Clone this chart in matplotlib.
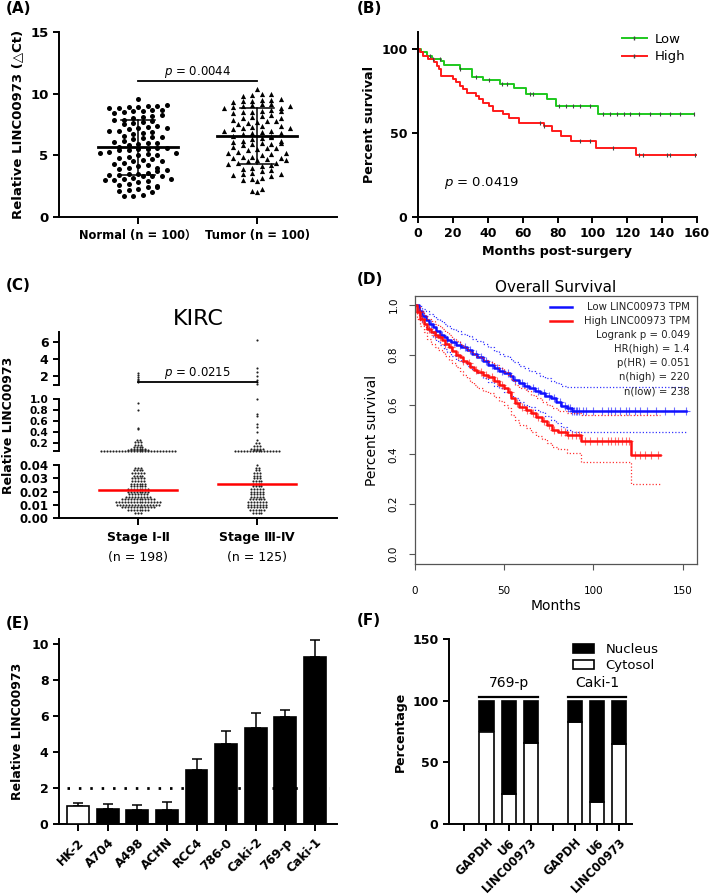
import numpy as np
import matplotlib
matplotlib.use("Agg")
import matplotlib.pyplot as plt
from matplotlib.patches import Patch
from matplotlib.lines import Line2D

plt.rcParams['font.family'] = ['DejaVu Sans', 'Noto Sans CJK SC']
plt.rcParams['mathtext.fontset'] = 'dejavusans'

# ---------------- data ----------------
# (A) delta Ct scatter
normal_vals = [1.7, 1.7, 1.8, 2.0, 2.1, 2.2, 2.3, 2.4, 2.4, 2.6,
               2.7, 2.8, 2.9, 3.0, 3.0, 3.1, 3.2, 3.3, 3.3, 3.4,
               3.4, 3.5, 3.5, 3.6, 3.7, 3.8, 3.9, 4.0, 4.1, 4.2,
               4.3, 4.4, 4.5, 4.6, 4.7, 4.8, 4.9, 5.0, 5.1, 5.2,
               5.3, 5.4, 5.4, 5.5, 5.5, 5.6, 5.6, 5.7, 5.8, 5.9,
               6.0, 6.1, 6.2, 6.3, 6.4, 6.5, 6.6, 6.7, 6.8, 6.9,
               7.0, 7.0, 7.1, 7.2, 7.3, 7.4, 7.5, 7.6, 7.7, 7.8,
               7.9, 7.9, 8.0, 8.1, 8.2, 8.3, 8.4, 8.5, 8.6, 8.6,
               8.7, 8.7, 8.8, 8.8, 8.9, 8.9, 9.0, 9.0, 9.1, 9.6,
               5.0, 4.5, 3.3, 6.5, 7.2, 2.5, 3.1, 5.2, 6.0, 4.0]
tumor_vals = [2.0, 2.1, 2.3, 2.9, 3.0, 3.1, 3.2, 3.3, 3.4, 3.5,
              3.6, 3.7, 3.8, 3.9, 4.0, 4.1, 4.2, 4.3, 4.4, 4.5,
              4.6, 4.7, 4.8, 4.9, 4.9, 5.0, 5.1, 5.2, 5.3, 5.4,
              5.5, 5.6, 5.7, 5.8, 5.9, 6.0, 6.1, 6.2, 6.3, 6.4,
              6.5, 6.6, 6.7, 6.8, 6.9, 7.0, 7.1, 7.2, 7.3, 7.4,
              7.5, 7.6, 7.7, 7.8, 7.9, 8.0, 8.1, 8.2, 8.3, 8.4,
              8.5, 8.5, 8.6, 8.7, 8.8, 8.9, 9.0, 9.1, 9.2, 9.3,
              9.4, 9.4, 9.5, 9.5, 9.6, 9.8, 9.9, 10.0, 10.0, 10.4,
              4.8, 5.6, 6.2, 7.0, 7.8, 8.6, 9.2, 5.9, 6.6, 3.5,
              4.4, 5.2, 6.8, 7.4, 8.0, 8.8, 9.0, 6.0, 4.6, 7.2]
a_labels = ['Normal (n = 100）', 'Tumor (n = 100)']
a_means = [5.65, 6.55]
a_sds = [2.25, 2.25]

# (B) Kaplan-Meier, months / percent
b_low_t = [0, 2, 5, 8, 13, 15, 24, 31, 37, 47, 55, 62, 74, 79, 103]
b_low_s = [100, 98, 96, 94, 92.5, 90.5, 88, 83.5, 81.5, 79, 76.5, 73, 70, 66, 61]
b_low_end = 158
b_low_cens = [6.7, 12.5, 24, 33.5, 41, 48, 51, 64, 66, 81, 85, 89, 93, 98.7, 106, 110,
              114, 118, 121.6, 127, 133, 139, 144.6, 150, 158]
b_high_t = [0, 1, 3, 6, 9, 11, 12, 13, 20, 22, 24, 26, 28, 33, 35, 37, 41, 43, 49, 52,
            58, 72, 77, 82, 88, 102, 125]
b_high_s = [100, 98, 96, 94, 92, 90, 88, 84, 82, 80, 78, 76, 74, 72, 70, 68, 66, 63, 61,
            59, 56, 54, 51, 48, 45, 41, 37]
b_high_end = 160
b_high_cens = [8.6, 70, 72, 93, 98.7, 112, 127, 129, 142.7, 144.6, 159]

# (C) KIRC stage, value levels and number of dots at each level
st12_levels = [0.004, 0.006, 0.008, 0.010, 0.012, 0.014, 0.016, 0.018, 0.020, 0.022,
               0.024, 0.026, 0.028, 0.030, 0.032, 0.034, 0.036, 0.038,
               0.068, 0.08, 0.1, 0.13, 0.17, 0.22, 0.25, 0.45, 0.48, 0.8, 0.93,
               1.3, 1.5, 1.7, 1.9, 2.1, 2.3]
st12_counts = [3, 8, 12, 15, 16, 12, 9, 7, 8, 8, 6, 6, 5, 5, 4, 5, 4, 3,
               26, 8, 6, 4, 3, 3, 2, 1, 1, 1, 1,
               1, 1, 1, 1, 1, 1]
st34_levels = [0.004, 0.006, 0.008, 0.010, 0.012, 0.014, 0.016, 0.018, 0.020, 0.022,
               0.024, 0.026, 0.028, 0.030, 0.032, 0.034, 0.036, 0.038, 0.040,
               0.068, 0.08, 0.1, 0.15, 0.2, 0.25, 0.4, 0.5, 0.55, 0.7, 0.72, 1.0,
               1.3, 1.5, 2.0, 2.5, 2.9, 6.2]
st34_counts = [4, 6, 7, 7, 7, 6, 5, 5, 5, 5, 4, 4, 4, 3, 3, 3, 2, 2, 1,
               16, 3, 5, 3, 2, 1, 1, 1, 1, 1, 1, 1,
               1, 1, 1, 1, 1, 1]
c_medians = [0.0215, 0.026]
c_groups = ['Stage Ⅰ-Ⅱ', 'Stage Ⅲ-Ⅳ']
c_ns = ['(n = 198)', '(n = 125)']

# (D) GEPIA overall survival
d_low_t = [0, 2, 4, 6, 8, 10, 12, 14, 16, 18, 20, 23, 26, 29, 32, 35, 38, 41, 44, 47,
           50, 53, 55, 58, 61, 64, 67, 70, 73, 76, 79, 82, 85, 88]
d_low_s = [1.0, 0.975, 0.955, 0.94, 0.925, 0.91, 0.895, 0.88, 0.87, 0.86, 0.85, 0.84,
           0.83, 0.82, 0.805, 0.79, 0.775, 0.76, 0.745, 0.735, 0.725, 0.715, 0.70, 0.685,
           0.675, 0.665, 0.655, 0.645, 0.635, 0.625, 0.61, 0.595, 0.585, 0.576]
d_low_up = [1.0, 0.995, 0.985, 0.975, 0.965, 0.955, 0.945, 0.935, 0.925, 0.915, 0.905,
            0.895, 0.885, 0.875, 0.865, 0.855, 0.845, 0.83, 0.815, 0.805, 0.795, 0.785,
            0.77, 0.755, 0.745, 0.735, 0.725, 0.715, 0.705, 0.695, 0.685, 0.675, 0.67, 0.67]
d_low_lo = [1.0, 0.955, 0.93, 0.91, 0.89, 0.87, 0.855, 0.84, 0.825, 0.81, 0.795, 0.78,
            0.77, 0.755, 0.74, 0.725, 0.705, 0.69, 0.675, 0.665, 0.65, 0.64, 0.625, 0.61,
            0.6, 0.59, 0.58, 0.57, 0.555, 0.54, 0.525, 0.51, 0.5, 0.49]
d_low_end = 152
d_low_cens = [3, 5, 9, 12, 15, 18, 22, 25, 28, 31, 34, 37, 40, 43, 46, 49, 52, 56, 60, 63,
              66, 69, 72, 75, 78, 81, 84, 86, 87, 88, 89, 90, 91, 92, 94, 96, 100, 105,
              108, 110, 112, 115, 118, 120, 123, 126, 130, 135, 140, 145, 152]
d_high_t = [0, 1, 3, 5, 7, 9, 11, 13, 15, 17, 19, 21, 23, 25, 27, 29, 31, 33, 35, 38, 41,
            44, 47, 50, 52, 54, 56, 58, 62, 65, 68, 71, 74, 77, 80, 85, 93, 121]
d_high_s = [1.0, 0.97, 0.945, 0.925, 0.905, 0.89, 0.88, 0.87, 0.86, 0.845, 0.83, 0.815,
            0.80, 0.79, 0.775, 0.765, 0.75, 0.74, 0.73, 0.72, 0.71, 0.695, 0.68, 0.665,
            0.65, 0.625, 0.605, 0.59, 0.58, 0.565, 0.55, 0.535, 0.52, 0.5, 0.49, 0.478,
            0.455, 0.398]
d_high_up = [1.0, 0.99, 0.975, 0.96, 0.945, 0.935, 0.925, 0.915, 0.905, 0.89, 0.88, 0.865,
             0.855, 0.845, 0.83, 0.82, 0.81, 0.8, 0.79, 0.78, 0.77, 0.76, 0.745, 0.73,
             0.72, 0.7, 0.68, 0.665, 0.655, 0.64, 0.625, 0.61, 0.6, 0.585, 0.575, 0.565,
             0.56, 0.56]
d_high_lo = [1.0, 0.945, 0.915, 0.89, 0.865, 0.845, 0.83, 0.82, 0.81, 0.795, 0.78, 0.765,
             0.75, 0.735, 0.72, 0.705, 0.69, 0.68, 0.665, 0.655, 0.645, 0.63, 0.615, 0.6,
             0.585, 0.56, 0.54, 0.52, 0.505, 0.49, 0.475, 0.46, 0.445, 0.43, 0.42, 0.405,
             0.37, 0.28]
d_high_end = 137
d_high_cens = [2, 4, 8, 11, 14, 17, 20, 24, 27, 30, 34, 37, 40, 43, 46, 49, 53, 57, 60, 63,
               66, 69, 72, 75, 78, 82, 84, 86, 88, 90, 92, 95, 98, 102, 105, 108, 110, 112,
               114, 116, 118, 120, 123, 126, 129, 132, 136]
d_stats = ['Logrank p = 0.049', 'HR(high) = 1.4', 'p(HR) = 0.051',
           'n(high) = 220', 'n(low) = 238']

# (E) cell lines
e_cells = ['HK-2', 'A704', 'A498', 'ACHN', 'RCC4', '786-0', 'Caki-2', '769-p', 'Caki-1']
e_vals = [0.98, 0.85, 0.79, 0.75, 2.98, 4.42, 5.34, 5.91, 9.26]
e_errs = [0.18, 0.25, 0.24, 0.45, 0.61, 0.72, 0.83, 0.41, 0.91]
e_cutoff = 2

# (F) fractionation
f_pos = [1, 2, 3, 5, 6, 7]
f_genes = ['GAPDH', 'U6', 'LINC00973', 'GAPDH', 'U6', 'LINC00973']
f_cytosol = [75, 24, 66, 83, 17.5, 65]
f_lines = ['769-p', 'Caki-1']

# ---------------- helpers ----------------
W, H = 709, 896
fig = plt.figure(figsize=(W / 100, H / 100), dpi=100)


def px_axes(left, top, right, bottom):
    return fig.add_axes([left / W, 1 - bottom / H, (right - left) / W, (bottom - top) / H])


def prism(ax, lw=1.4, size=9):
    ax.spines['top'].set_visible(False)
    ax.spines['right'].set_visible(False)
    ax.spines['left'].set_linewidth(lw)
    ax.spines['bottom'].set_linewidth(lw)
    ax.tick_params(width=lw, length=4, labelsize=size, color='black')


def bold_ticks(ax):
    for lab in ax.get_xticklabels() + ax.get_yticklabels():
        lab.set_fontweight('bold')


def swarm_offsets(vals, row_h, step):
    vals = np.asarray(vals)
    rows = np.round(vals / row_h).astype(int)
    off = np.zeros(len(vals))
    for r in np.unique(rows):
        idx = np.where(rows == r)[0]
        n = len(idx)
        off[idx] = (np.arange(n) - (n - 1) / 2) * step
    return off


def level_offsets(counts, step):
    return np.concatenate([(np.arange(n) - (n - 1) / 2) * step for n in counts])


def step_at(t, s, x):
    idx = np.searchsorted(t, x, side='right') - 1
    return np.asarray(s)[idx]


def panel_label(x, y, txt):
    fig.text(x / W, 1 - y / H, txt, fontsize=11, fontweight='bold', va='top', ha='left')


# ---------------- (A) ----------------
axA = px_axes(59, 32, 337, 217)
prism(axA, size=9.5)
for i, (vals, mk, sz) in enumerate([(normal_vals, 'o', 13), (tumor_vals, '^', 14)]):
    off = swarm_offsets(vals, 0.45, 0.08)
    axA.scatter(i + off, vals, s=sz, marker=mk, color='black', linewidths=0, zorder=2)
for i, (m, sd) in enumerate(zip(a_means, a_sds)):
    axA.plot([i - 0.34, i + 0.34], [m, m], color='black', lw=2, zorder=3)
    axA.plot([i, i], [m - sd, m + sd], color='black', lw=1.1, zorder=3)
    for y in (m - sd, m + sd):
        axA.plot([i - 0.14, i + 0.14], [y, y], color='black', lw=1.1, zorder=3)
axA.plot([0, 1], [11, 11], color='black', lw=1.3)
axA.text(0.5, 11.1, r'$\it{p}$ = 0.0044', ha='center', va='bottom', fontsize=8.5)
axA.set_xlim(-0.664, 1.672)
axA.set_ylim(0, 15)
axA.set_yticks([0, 5, 10, 15])
axA.set_xticks([0, 1])
axA.set_xticklabels(a_labels, fontsize=8.3)
axA.tick_params(axis='x', length=5)
axA.set_ylabel('Relative LINC00973 (△Ct)', fontsize=9.5, fontweight='bold', labelpad=4)
bold_ticks(axA)

# ---------------- (B) ----------------
green = '#1ec81e'
red = '#ff1a1a'
axB = px_axes(418, 32, 697, 217)
prism(axB)
for t, s, end, cens, col, lab in [(b_low_t, b_low_s, b_low_end, b_low_cens, green, 'Low'),
                                  (b_high_t, b_high_s, b_high_end, b_high_cens, red, 'High')]:
    axB.step(list(t) + [end], list(s) + [s[-1]], where='post', color=col, lw=1.4)
    axB.plot(cens, step_at(t, s, cens), ls='none', marker='|', ms=3.5, mew=0.8, color='#444444')
axB.set_xlim(0, 160)
axB.set_ylim(0, 110)
axB.set_xticks(range(0, 161, 20))
axB.set_yticks([0, 50, 100])
axB.set_xlabel('Months post-surgery', fontsize=9.2, fontweight='bold', labelpad=3)
axB.set_ylabel('Percent survival', fontsize=9.2, fontweight='bold', labelpad=4)
axB.text(15, 20, r'$\it{p}$ = 0.0419', fontsize=9.5, va='center')
hB = [Line2D([], [], color=green, lw=1.4, marker='|', ms=3.5, mec='#444444'),
      Line2D([], [], color=red, lw=1.4, marker='|', ms=3.5, mec='#444444')]
axB.legend(hB, ['Low', 'High'], loc='upper right', bbox_to_anchor=(1.0, 1.06), frameon=False,
           fontsize=9.5, handlelength=1.9, numpoints=1, labelspacing=0.35, handletextpad=0.6)
bold_ticks(axB)

# ---------------- (C) ----------------
c_left, c_right = 59, 337
axCt = px_axes(c_left, 332, c_right, 385)
axCm = px_axes(c_left, 399, c_right, 451)
axCb = px_axes(c_left, 465, c_right, 518)
c_vals = [np.repeat(st12_levels, st12_counts), np.repeat(st34_levels, st34_counts)]
c_offs = [level_offsets(st12_counts, 0.025), level_offsets(st34_counts, 0.025)]
for ax, lims in [(axCt, (0.94, 7.18)), (axCm, (0.06, 1.0)), (axCb, (0.0, 0.04))]:
    prism(ax)
    ax.set_xlim(-0.664, 1.672)
    ax.set_ylim(*lims)
    for i in range(2):
        v = c_vals[i]
        m = (v >= lims[0]) & (v <= lims[1] + 1e-9)
        ax.scatter(i + c_offs[i][m], v[m], s=2.4, color='#222222', linewidths=0, clip_on=False)
for ax in (axCt, axCm):
    ax.spines['bottom'].set_visible(False)
    ax.set_xticks([])
axCt.set_yticks([0.94, 2, 4, 6])
axCt.set_yticklabels(['', '2', '4', '6'])
axCm.set_yticks([0.06, 0.2, 0.4, 0.6, 0.8, 1.0])
axCm.set_yticklabels(['', '0.2', '0.4', '0.6', '0.8', '1.0'])
axCm.tick_params(axis='y', labelsize=7.6)
axCb.set_yticks([0, 0.01, 0.02, 0.03, 0.04])
axCb.set_yticklabels(['0.00', '0.01', '0.02', '0.03', '0.04'])
axCb.tick_params(axis='y', labelsize=8.5)
for i, med in enumerate(c_medians):
    axCb.plot([i - 0.33, i + 0.33], [med, med], color='red', lw=1.8, zorder=3)
axCb.set_xticks([0, 1])
axCb.set_xticklabels(['', ''])
axCb.tick_params(axis='x', length=5)
for i in range(2):
    axCb.annotate(c_groups[i], xy=(i, 0), xycoords=('data', 'axes fraction'),
                  xytext=(0, -14), textcoords='offset points', ha='center', va='center',
                  fontsize=9, fontweight='bold')
    axCb.annotate(c_ns[i], xy=(i, 0), xycoords=('data', 'axes fraction'),
                  xytext=(0, -28.5), textcoords='offset points', ha='center', va='center',
                  fontsize=9)
axCt.plot([0, 1], [1.3, 1.3], color='black', lw=1.3)
axCt.text(0.5, 1.45, r'$\it{p}$ = 0.0215', ha='center', va='bottom', fontsize=8.5)
axCt.set_title('KIRC', fontsize=16, pad=5)
for ax in (axCt, axCm, axCb):
    bold_ticks(ax)
fig.text(9 / W, 1 - 425 / H, 'Relative LINC00973', rotation=90, fontsize=9,
         fontweight='bold', ha='center', va='center')

# ---------------- (D) ----------------
blue = '#1010ff'
red_d = '#ff1010'
axD = px_axes(415, 296, 697, 564)
for sp in axD.spines.values():
    sp.set_linewidth(0.9)
    sp.set_color('#555555')
for t, s, up, lo, end, cens, col in [
        (d_low_t, d_low_s, d_low_up, d_low_lo, d_low_end, d_low_cens, blue),
        (d_high_t, d_high_s, d_high_up, d_high_lo, d_high_end, d_high_cens, red_d)]:
    tt = list(t) + [end]
    axD.step(tt, list(up) + [up[-1]], where='post', color=col, lw=0.9, ls=(0, (1, 1.6)), alpha=0.85)
    axD.step(tt, list(lo) + [lo[-1]], where='post', color=col, lw=0.9, ls=(0, (1, 1.6)), alpha=0.85)
    axD.step(tt, list(s) + [s[-1]], where='post', color=col, lw=1.8)
    axD.plot(cens, step_at(t, s, cens), ls='none', marker='+', ms=6, mew=0.8, color=col, alpha=0.6)
axD.set_xlim(0, 158)
axD.set_ylim(-0.04, 1.036)
axD.set_xticks([0, 50, 100, 150])
axD.set_yticks([0.0, 0.2, 0.4, 0.6, 0.8, 1.0])
axD.set_yticklabels(['0.0', '0.2', '0.4', '0.6', '0.8', '1.0'], rotation=90, va='center')
axD.tick_params(labelsize=7.5, length=4, width=0.8, color='#555555', pad=8)
axD.tick_params(axis='x', pad=12)
axD.set_xlabel('Months', fontsize=10, labelpad=2)
axD.set_ylabel('Percent survival', fontsize=10, labelpad=7)
axD.set_title('Overall Survival', fontsize=11, pad=3)
d_rows = ['Low LINC00973 TPM', 'High LINC00973 TPM'] + d_stats
for k, txt in enumerate(d_rows):
    yk = (564 - 307 - 14 * k) / 268
    axD.text(0.975, yk, txt, transform=axD.transAxes, ha='right', va='center', fontsize=7.3,
             color='#222222')
for k, col in enumerate([blue, red_d]):
    yk = (564 - 307 - 14 * k) / 268
    axD.add_line(Line2D([0.48, 0.557], [yk, yk], transform=axD.transAxes, color=col, lw=1.8))

# ---------------- (E) ----------------
axE = px_axes(59, 639, 337, 824)
prism(axE)
xe = np.arange(len(e_cells))
axE.errorbar(xe, e_vals, yerr=[np.zeros(len(e_vals)), e_errs], fmt='none', ecolor='black',
             elinewidth=1.1, capsize=3.6, capthick=1.1, zorder=2)
colors = ['white'] + ['black'] * (len(e_cells) - 1)
axE.bar(xe, e_vals, width=0.74, color=colors, edgecolor='black', linewidth=1.2, zorder=3)
axE.axhline(e_cutoff, xmin=0.03, xmax=0.97, color='black', lw=2, ls=(0, (0.9, 3.2)), zorder=4)
axE.set_xlim(-0.64, 8.74)
axE.set_ylim(0, 10.25)
axE.set_yticks(range(0, 11, 2))
axE.set_xticks(xe)
axE.set_xticklabels(e_cells, rotation=45, ha='right', rotation_mode='anchor', fontsize=8.8)
axE.tick_params(axis='x', length=5)
axE.set_ylabel('Relative LINC00973', fontsize=9, fontweight='bold', labelpad=5)
bold_ticks(axE)

# ---------------- (F) ----------------
axF = px_axes(449, 639, 632, 824)
prism(axF)
bw = 0.64
nucleus = [100 - c for c in f_cytosol]
axF.bar(f_pos, f_cytosol, width=bw, color='white', edgecolor='black', linewidth=1.2)
axF.bar(f_pos, nucleus, bottom=f_cytosol, width=bw, color='black', edgecolor='black', linewidth=1.2)
axF.set_xlim(-0.69, 7.57)
axF.set_ylim(0, 150)
axF.set_yticks([0, 50, 100, 150])
axF.set_xticks(range(8))
f_ticklabels = [''] * 8
for p, g in zip(f_pos, f_genes):
    f_ticklabels[p] = g
axF.set_xticklabels(f_ticklabels, rotation=45, ha='right', rotation_mode='anchor', fontsize=8.5)
axF.tick_params(axis='x', length=5)
for g, name in enumerate(f_lines):
    a, b = f_pos[3 * g], f_pos[3 * g + 2]
    axF.plot([a - bw / 2, b + bw / 2], [103, 103], color='black', lw=1.6)
    axF.text((a + b) / 2, 109, name, ha='center', va='bottom', fontsize=10)
hF = [Patch(facecolor='black', edgecolor='black', lw=1.2),
      Patch(facecolor='white', edgecolor='black', lw=1.2)]
axF.legend(hF, ['Nucleus', 'Cytosol'], loc='upper right', bbox_to_anchor=(1.21, 1.04),
           frameon=False, fontsize=9.5, handlelength=1.6, handleheight=0.7,
           labelspacing=0.2, handletextpad=0.9)
axF.set_ylabel('Percentage', fontsize=9, fontweight='bold', labelpad=4)
bold_ticks(axF)

# ---------------- panel labels ----------------
panel_label(6, 1, '(A)')
panel_label(357, 1, '(B)')
panel_label(6, 278, '(C)')
panel_label(357, 272, '(D)')
panel_label(6, 616, '(E)')
panel_label(357, 613, '(F)')

fig.savefig('out.png', dpi=100)
